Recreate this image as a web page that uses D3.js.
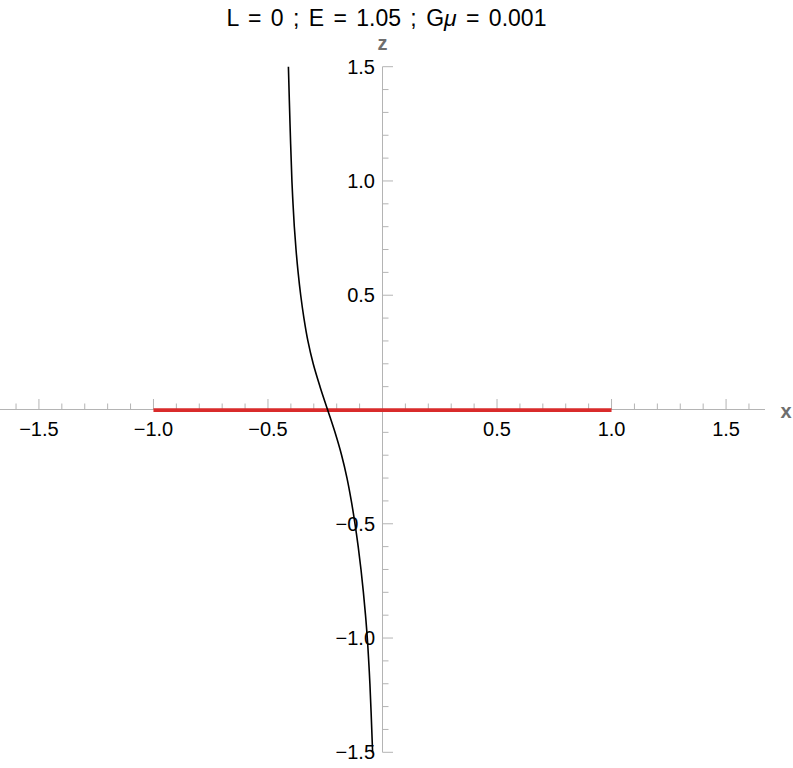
<!DOCTYPE html>
<html>
<head>
<meta charset="utf-8">
<script src="https://cdn.jsdelivr.net/npm/d3@7"></script>
<style>
  html, body { margin: 0; padding: 0; background: #fff; }
  svg { display: block; font-family: "Liberation Sans", Arial, sans-serif; }
</style>
</head>
<body>
<script>
// ---- data ----
const titleParts = ["L = 0 ; E = 1.05 ; G", "\u03BC", " = 0.001"];
const xDomain = [-1.67, 1.67];
const zDomain = [-1.5, 1.5];
const majorTicks = [-1.5, -1.0, -0.5, 0.5, 1.0, 1.5];
const xMinorRange = [-1.6, 1.6];
const zMinorRange = [-1.5, 1.5];
const segmentX = [-1, 1];     // red segment on z = 0
const curveZ = [1.5, 1.25, 1.0, 0.9, 0.8, 0.7, 0.6, 0.5, 0.4, 0.3, 0.2, 0.1, 0.0, -0.1, -0.2, -0.3, -0.4, -0.5, -0.6, -0.7, -0.8, -0.9, -1.0, -1.2, -1.5];
const curveX = [-0.4108, -0.4038, -0.3955, -0.3907, -0.3850, -0.3776, -0.3684, -0.3571, -0.3431, -0.3257, -0.3025, -0.2728, -0.2401, -0.2074, -0.1785, -0.1550, -0.1362, -0.1201, -0.1061, -0.0939, -0.0834, -0.0742, -0.0664, -0.0550, -0.0432];

// ---- layout ----
const W = 793, H = 768;
const svg = d3.select("body").append("svg").attr("width", W).attr("height", H);

const x = d3.scaleLinear().domain(xDomain).range([0, 765]);
const z = d3.scaleLinear().domain(zDomain).range([752.3, 66.7]);

const axisColor = "#b4b4b4";
const fmt = v => (v < 0 ? "\u2212" : "") + Math.abs(v).toFixed(1);

const isMinor = v => Math.abs(v) > 1e-9 && Math.abs((v * 2) - Math.round(v * 2)) > 1e-6;
const minorX = d3.range(Math.round(xMinorRange[0] * 10), Math.round(xMinorRange[1] * 10) + 1).map(i => i / 10).filter(isMinor);
const minorZ = d3.range(Math.round(zMinorRange[0] * 10), Math.round(zMinorRange[1] * 10) + 1).map(i => i / 10).filter(isMinor);

const y0 = z(0), x0 = x(0);

// x axis
const gx = svg.append("g");
gx.append("line").attr("x1", x(xDomain[0])).attr("x2", x(xDomain[1]))
  .attr("y1", y0).attr("y2", y0).attr("stroke", axisColor).attr("stroke-width", 1);
gx.selectAll("line.maj").data(majorTicks).join("line").attr("class", "maj")
  .attr("x1", d => x(d)).attr("x2", d => x(d)).attr("y1", y0).attr("y2", y0 - 10.5)
  .attr("stroke", axisColor);
gx.selectAll("line.min").data(minorX).join("line").attr("class", "min")
  .attr("x1", d => x(d)).attr("x2", d => x(d)).attr("y1", y0).attr("y2", y0 - 6)
  .attr("stroke", axisColor);
gx.selectAll("text").data(majorTicks).join("text")
  .attr("x", d => x(d)).attr("y", y0 + 26.5).attr("text-anchor", "middle")
  .attr("font-size", 20).attr("fill", "#000").text(fmt);

// z axis
const gz = svg.append("g");
gz.append("line").attr("x1", x0).attr("x2", x0)
  .attr("y1", z(zDomain[0])).attr("y2", z(zDomain[1])).attr("stroke", axisColor);
gz.selectAll("line.maj").data(majorTicks).join("line").attr("class", "maj")
  .attr("x1", x0).attr("x2", x0 + 10.5).attr("y1", d => z(d)).attr("y2", d => z(d))
  .attr("stroke", axisColor);
gz.selectAll("line.min").data(minorZ).join("line").attr("class", "min")
  .attr("x1", x0).attr("x2", x0 + 6).attr("y1", d => z(d)).attr("y2", d => z(d))
  .attr("stroke", axisColor);
gz.selectAll("text").data(majorTicks).join("text")
  .attr("x", x0 - 7.5).attr("y", d => z(d)).attr("dy", "0.35em").attr("text-anchor", "end")
  .attr("font-size", 20).attr("fill", "#000").text(fmt);

// axis labels
svg.append("text").attr("x", x0).attr("y", 50).attr("text-anchor", "middle")
  .attr("font-size", 20).attr("font-weight", "bold").attr("fill", "#6e6e6e").text("z");
svg.append("text").attr("x", 786).attr("y", 418).attr("text-anchor", "middle")
  .attr("font-size", 20).attr("font-weight", "bold").attr("fill", "#6e6e6e").text("x");

// red segment
svg.append("line").attr("x1", x(segmentX[0])).attr("x2", x(segmentX[1]))
  .attr("y1", y0 + 0.6).attr("y2", y0 + 0.6)
  .attr("stroke", "#d92b2b").attr("stroke-width", 3.6);

// curve
const pts = curveZ.map((zz, i) => [curveX[i], zz]);
svg.append("path").datum(pts)
  .attr("d", d3.line().x(d => x(d[0])).y(d => z(d[1])).curve(d3.curveCatmullRom.alpha(0.5)))
  .attr("fill", "none").attr("stroke", "#000").attr("stroke-width", 1.6);

// title
const t = svg.append("text").attr("x", x0 + 4).attr("y", 26).attr("text-anchor", "middle")
  .attr("font-size", 23).attr("fill", "#000").attr("word-spacing", "3px");
t.append("tspan").text(titleParts[0]);
t.append("tspan").attr("font-style", "italic").text(titleParts[1]);
t.append("tspan").text(titleParts[2]);
</script>
</body>
</html>
